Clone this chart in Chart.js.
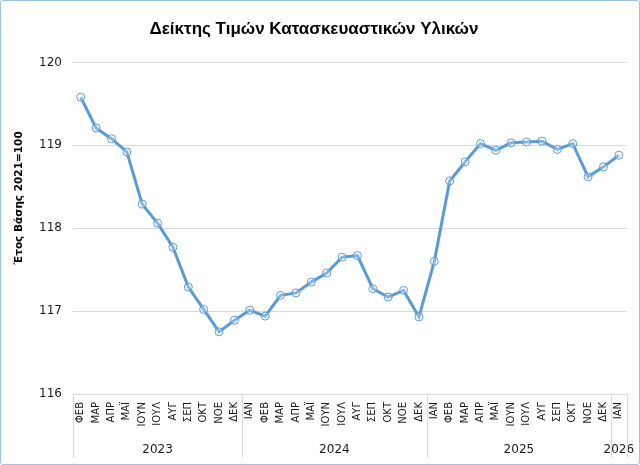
<!DOCTYPE html>
<html>
<head>
<meta charset="utf-8">
<script src="https://cdn.jsdelivr.net/npm/chart.js@4.4.0/dist/chart.umd.min.js"></script>
<style>
    html, body { margin: 0; padding: 0; background: #fff; }
    #wrap {
        width: 638px;
        height: 463px;
        border: 1px solid #9dc3e6;
        border-radius: 3px;
        position: relative;
    }
</style>
</head>
<body>
<div id="wrap"><canvas id="chart" width="638" height="463"></canvas></div>
<script>
const months = [
    'ΦΕΒ', 'ΜΑΡ', 'ΑΠΡ', 'ΜΑΪ', 'ΙΟΥΝ', 'ΙΟΥΛ', 'ΑΥΓ', 'ΣΕΠ', 'ΟΚΤ', 'ΝΟΕ', 'ΔΕΚ',
    'ΙΑΝ', 'ΦΕΒ', 'ΜΑΡ', 'ΑΠΡ', 'ΜΑΪ', 'ΙΟΥΝ', 'ΙΟΥΛ', 'ΑΥΓ', 'ΣΕΠ', 'ΟΚΤ', 'ΝΟΕ', 'ΔΕΚ',
    'ΙΑΝ', 'ΦΕΒ', 'ΜΑΡ', 'ΑΠΡ', 'ΜΑΪ', 'ΙΟΥΝ', 'ΙΟΥΛ', 'ΑΥΓ', 'ΣΕΠ', 'ΟΚΤ', 'ΝΟΕ', 'ΔΕΚ',
    'ΙΑΝ'
];
const years = ['2023', '2024', '2025', '2026'];
const yearSpans = [11, 12, 12, 1];

const values = [
    119.58, 119.21, 119.08, 118.92, 118.29, 118.06, 117.77, 117.29, 117.02, 116.75, 116.89,
    117.01, 116.94, 117.19, 117.22, 117.35, 117.46, 117.65, 117.67, 117.27, 117.17, 117.25, 116.93,
    117.60, 118.57, 118.80, 119.02, 118.94, 119.03, 119.04, 119.05, 118.95, 119.02, 118.62, 118.74,
    118.88
];
const yMin = 116;
const yMax = 120;
const yStep = 1;

const chartTitle = 'Δείκτης Τιμών Κατασκευαστικών Υλικών';
const yTitle = 'Έτος Βάσης 2021=100';

// year row under the month labels, with the group separators
const yearGroups = {
    id: 'yearGroups',
    afterDraw(chart) {
        const ctx = chart.ctx;
        const x = chart.scales.x;
        const area = chart.chartArea;
        const bottom = 457;
        ctx.save();
        ctx.strokeStyle = '#d9d9d9';
        ctx.lineWidth = 1;
        let start = 0;
        const edges = [area.left];
        yearSpans.forEach((span, i) => {
            const end = start + span;
            let right;
            if (end >= months.length) {
                right = area.right;
            } else {
                right = (x.getPixelForValue(end - 1) + x.getPixelForValue(end)) / 2;
            }
            edges.push(right);
            const left = edges[i];
            ctx.fillStyle = '#1a1a1a';
            ctx.font = '12px "DejaVu Sans"';
            ctx.textAlign = 'center';
            ctx.textBaseline = 'middle';
            ctx.fillText(years[i], (left + right) / 2, 449);
            start = end;
        });
        edges.forEach(e => {
            const px = Math.round(e) + 0.5;
            ctx.beginPath();
            ctx.moveTo(px, area.bottom);
            ctx.lineTo(px, bottom);
            ctx.stroke();
        });

        // y axis title
        ctx.translate(18, 197);
        ctx.rotate(-Math.PI / 2);
        ctx.fillStyle = '#000';
        ctx.font = 'bold 10.5px "DejaVu Sans"';
        ctx.textAlign = 'center';
        ctx.textBaseline = 'middle';
        ctx.fillText(yTitle, 0, 0);
        ctx.restore();
    }
};

new Chart(document.getElementById('chart'), {
    type: 'line',
    data: {
        labels: months,
        datasets: [{
            data: values,
            borderColor: '#5b9bd5',
            borderWidth: 3,
            pointRadius: 4,
            pointBorderWidth: 1,
            pointBorderColor: '#5b9bd5',
            pointBackgroundColor: 'rgba(255,255,255,0.25)',
            tension: 0
        }]
    },
    options: {
        responsive: false,
        animation: false,
        layout: { padding: { left: 0, right: 12, top: 0, bottom: 0 } },
        plugins: {
            legend: { display: false },
            tooltip: { enabled: false },
            title: {
                display: true,
                text: chartTitle,
                color: '#000',
                font: { family: '"Liberation Sans", Arial', size: 17, weight: 'bold' },
                padding: { top: 18, bottom: 23 }
            }
        },
        scales: {
            x: {
                type: 'category',
                offset: true,
                grid: { display: false, drawTicks: false },
                border: { display: true, color: '#d9d9d9' },
                ticks: {
                    autoSkip: false,
                    minRotation: 90,
                    maxRotation: 90,
                    padding: 8,
                    color: '#1a1a1a',
                    font: { family: '"DejaVu Sans"', size: 10 }
                },
                afterFit(scale) { scale.height = 70; }
            },
            y: {
                min: yMin,
                max: yMax,
                grid: { color: '#d9d9d9', drawTicks: false },
                border: { display: false },
                ticks: {
                    stepSize: yStep,
                    padding: 11,
                    color: '#1a1a1a',
                    font: { family: '"DejaVu Sans"', size: 12 }
                },
                afterFit(scale) { scale.width = 72; }
            }
        }
    },
    plugins: [yearGroups]
});
</script>
</body>
</html>
